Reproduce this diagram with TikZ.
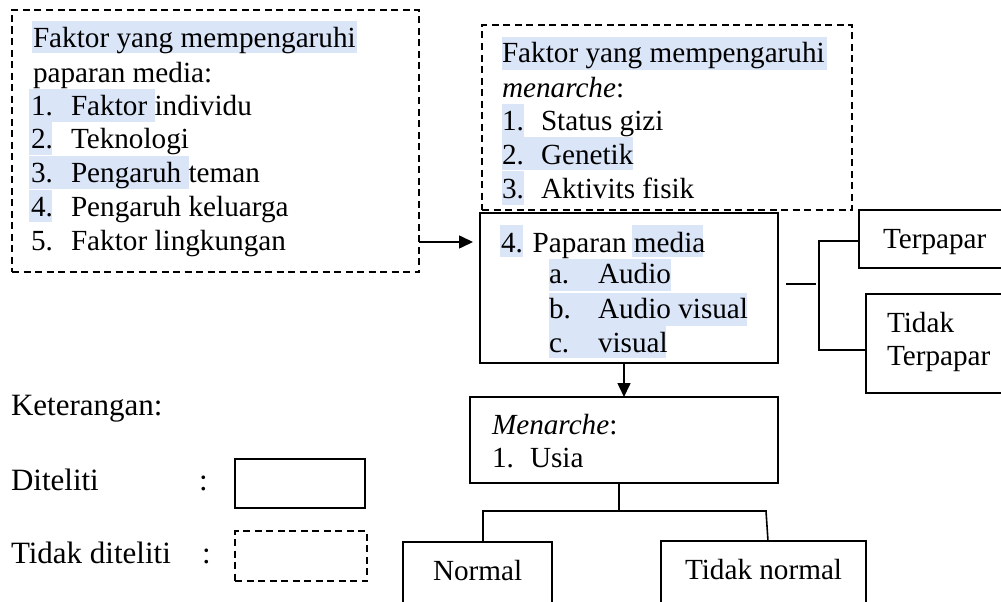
\documentclass[tikz,border=0pt]{standalone}
\usepackage{fontspec}
\setmainfont{Liberation Serif}
\usetikzlibrary{arrows.meta}
\definecolor{hlblue}{HTML}{DAE5F8}
\begin{document}
\begin{tikzpicture}[x=1pt,y=-1pt,
  txt/.style={anchor=base west,inner sep=0pt,outer sep=0pt,font=\fontsize{29.2pt}{34pt}\selectfont},
  legtxt/.style={txt,font=\fontsize{31pt}{36pt}\selectfont},
  solidbox/.style={draw,line width=1.8pt,inner sep=0pt,outer sep=0pt},
  dashbox/.style={draw,line width=1.6pt,dash pattern=on 7pt off 4.5pt,inner sep=0pt,outer sep=0pt},
  hl/.style={fill=hlblue},
  conn/.style={line width=1.6pt},
  arr/.style={line width=1.6pt,-{Triangle[length=14pt,width=13pt]}}
]
\clip (0,0) rectangle (1001,602);
\fill[white] (0,0) rectangle (1001,602);

% ---------- highlights ----------
\fill[hl] (32,21) rectangle (357,53);
\fill[hl] (29,89) rectangle (155,122);
\fill[hl] (29,122) rectangle (52,155);
\fill[hl] (29,156) rectangle (189,189);
\fill[hl] (29,190) rectangle (52,222);

\fill[hl] (502,37) rectangle (827,70);
\fill[hl] (502,104) rectangle (524,137);
\fill[hl] (502,137) rectangle (633,170);
\fill[hl] (502,171) rectangle (524,205);

\fill[hl] (500,225) rectangle (523,257);
\fill[hl] (632,225) rectangle (703,257);
\fill[hl] (549,259) rectangle (671,291);
\fill[hl] (549,293) rectangle (747,326);
\fill[hl] (549,326) rectangle (666,358);

% ---------- boxes ----------
\node[dashbox, minimum width=407pt, minimum height=262pt] (f1) at (215.5,141) {};
\node[dashbox, minimum width=370pt, minimum height=185pt] (f2) at (667,117.5) {};
\node[solidbox, minimum width=298pt, minimum height=150pt] (media) at (629,288) {};
\node[solidbox, minimum width=308pt, minimum height=86pt] (men) at (624,440) {};
\node[solidbox, minimum width=151pt, minimum height=58pt] (terp) at (934.5,239) {};
\node[solidbox, minimum width=144pt, minimum height=99pt] (tterp) at (938,343.5) {};
\node[solidbox, minimum width=149pt, minimum height=80pt] (norm) at (477.5,582) {};
\node[solidbox, minimum width=205pt, minimum height=80pt] (tnorm) at (763.5,581) {};
\node[solidbox, minimum width=130pt, minimum height=49pt] (legs) at (300,483.5) {};
\node[dashbox, minimum width=132pt, minimum height=50pt] (legd) at (301,556) {};

% ---------- texts: left box ----------
\node[txt] (a1) at (33,48) {Faktor yang mempengaruhi};
\node[txt] (a2) at (33,82) {paparan media:};
\node[txt] (a3n) at (31,115) {1.};
\node[txt] (a3) at (71,115) {Faktor individu};
\node[txt] (a4n) at (31,148) {2.};
\node[txt] (a4) at (71,148) {Teknologi};
\node[txt] (a5n) at (31,182) {3.};
\node[txt] (a5) at (71,182) {Pengaruh teman};
\node[txt] (a6n) at (31,216) {4.};
\node[txt] (a6) at (71,216) {Pengaruh keluarga};
\node[txt] (a7n) at (31,250) {5.};
\node[txt] (a7) at (71,250) {Faktor lingkungan};

% ---------- texts: top middle box ----------
\node[txt] (b1) at (502,63) {Faktor yang mempengaruhi};
\node[txt] (b2) at (502,97) {\textit{menarche}:};
\node[txt] (b3n) at (502,130) {1.};
\node[txt] (b3) at (541,130) {Status gizi};
\node[txt] (b4n) at (502,164) {2.};
\node[txt] (b4) at (541,164) {Genetik};
\node[txt] (b5n) at (502,198) {3.};
\node[txt] (b5) at (541,198) {Aktivits fisik};

% ---------- texts: media box ----------
\node[txt] (c1) at (501,252) {4. Paparan media};
\node[txt] (c2n) at (549,283) {a.};
\node[txt] (c2) at (598,283) {Audio};
\node[txt] (c3n) at (549,318) {b.};
\node[txt] (c3) at (598,318) {Audio visual};
\node[txt] (c4n) at (549,352) {c.};
\node[txt] (c4) at (598,352) {visual};

% ---------- texts: menarche box ----------
\node[txt] (d1) at (492,434) {\textit{Menarche}:};
\node[txt] (d2n) at (492,467) {1.};
\node[txt] (d2) at (530,467) {Usia};

% ---------- texts: outcome boxes ----------
\node[txt] (e1) at (883,248) {Terpapar};
\node[txt] (e2) at (887,332) {Tidak};
\node[txt] (e3) at (887,365) {Terpapar};
\node[txt] (e4) at (433,580) {Normal};
\node[txt] (e5) at (685,579) {Tidak normal};

% ---------- legend ----------
\node[legtxt] (k1) at (11,415) {Keterangan:};
\node[legtxt] (k2) at (11,490) {Diteliti};
\node[legtxt] (k2c) at (199,490) {:};
\node[legtxt] (k3) at (11,563) {Tidak diteliti};
\node[legtxt] (k3c) at (202,563) {:};

% ---------- connectors ----------
\coordinate (tip1) at (473,242);
\draw[arr] (f1.east |- tip1) -- (tip1);
\draw[arr] (media.south -| men.north) -- (men.north);

\coordinate (brk) at (819,284);
\draw[conn] (786,284) -- (816,284);
\draw[conn] (terp.west |- {(0,241)}) -- (819,241) -- (819,350) -- (tterp.west |- {(0,350)});

\coordinate (mj) at (619,511);
\draw[conn] (men.south -| mj) -- (mj);
\draw[conn] (norm.north -| {(483,0)}) -- (483,511) -- (766,511) -- (tnorm.north -| {(768,0)});
\end{tikzpicture}
\end{document}
